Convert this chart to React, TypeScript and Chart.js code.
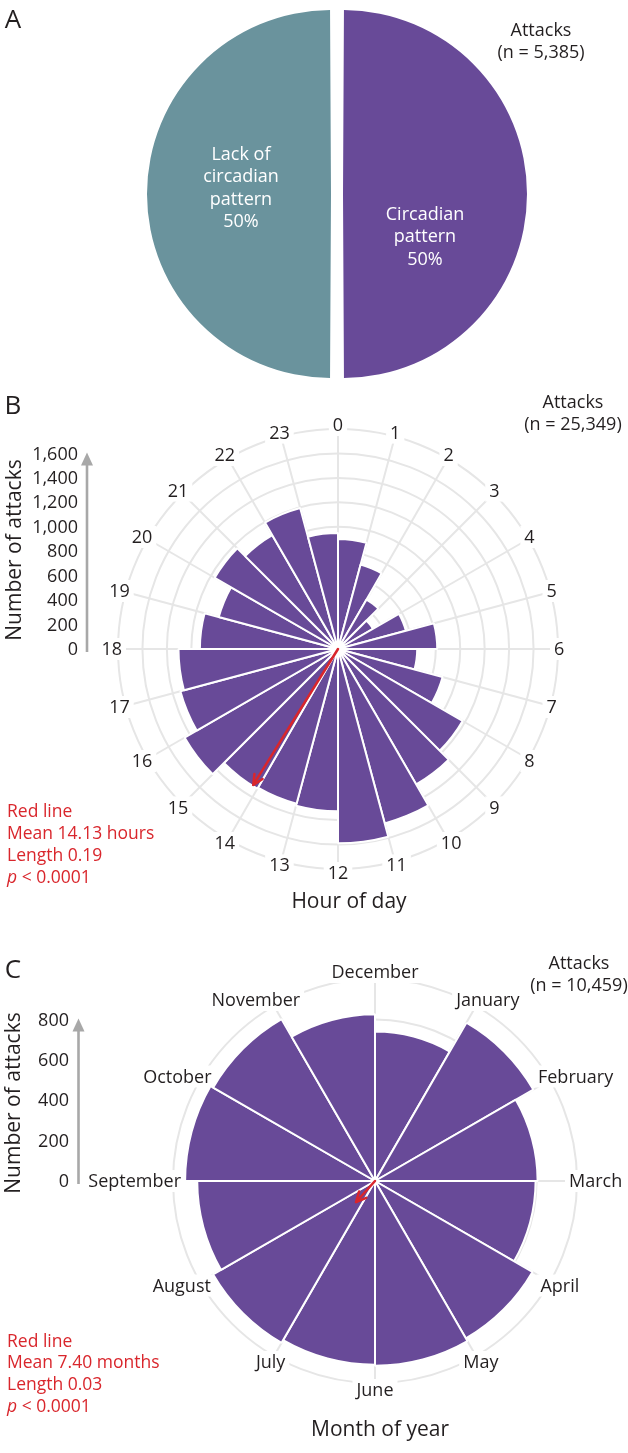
import React, { useEffect, useRef } from 'react';
import { Chart, registerables } from 'chart.js';

Chart.register(...registerables);

const FONT = "'Open Sans', 'DejaVu Sans', sans-serif";
const TEXT = '#231f20';
const PURPLE = '#684a98';
const TEAL = '#6a939d';
const GRID = '#e6e6e6';
const RED = '#d9262c';
const AXIS_GRAY = '#a8a8a8';

// ---------- Panel A data ----------
const pieLabels = ['Circadian pattern', 'Lack of circadian pattern'];
const pieValues = [50, 50];
const pieCount = '5,385';

// ---------- Panel B data ----------
const hourLabels = ['0', '1', '2', '3', '4', '5', '6', '7', '8', '9', '10', '11', '12', '13', '14', '15', '16', '17', '18', '19', '20', '21', '22', '23'];
const hourAttacks = [900, 715, 467, 330, 575, 812, 648, 886, 1177, 1280, 1477, 1590, 1328, 1310, 1320, 1450, 1335, 1305, 1130, 1010, 1165, 1075, 1195, 950];
const hourAxisTicks = [0, 200, 400, 600, 800, 1000, 1200, 1400, 1600];
const hourScaleMax = 1800;
const hourCount = '25,349';
const hourMean = 14.13;
const hourLength = 0.19;
const hourMeanReach = 1310;

// ---------- Panel C data ----------
const monthLabels = ['December', 'January', 'February', 'March', 'April', 'May', 'June', 'July', 'August', 'September', 'October', 'November'];
const monthAttacks = [740, 905, 805, 795, 900, 915, 910, 925, 880, 940, 925, 825];
const monthAxisTicks = [0, 200, 400, 600, 800];
const monthScaleMax = 1000;
const monthCount = '10,459';
const monthMean = 7.4;
const monthLength = 0.03;
const monthMeanReach = 140;

type RoseOpts = {
  axisX: number;
  tickRight: number;
  ticks: number[];
  labelValue: number;
  labelOffset: number;
  labelH: number;
  labelFont: number;
  mean: number;
  meanReach: number;
};

function labelBoxes(chart: any, o: RoseOpts) {
  const s = chart.scales.r;
  const ctx = chart.ctx as CanvasRenderingContext2D;
  ctx.font = `${o.labelFont}px ${FONT}`;
  const labels: string[] = chart.data.labels;
  return labels.map((lab, i) => {
    const pos = s.getPointPosition(i, s.getDistanceFromCenterForValue(o.labelValue) + o.labelOffset);
    const theta = s.getIndexAngle(i);
    const w = ctx.measureText(lab).width;
    return {
      lab,
      w,
      x: pos.x + (Math.sin(theta) * w) / 2,
      y: pos.y - (Math.cos(theta) * o.labelH) / 2,
    };
  });
}

function rosePlugin(o: RoseOpts) {
  return {
    id: 'roseExtras',
    beforeDatasetsDraw(chart: any) {
      const ctx = chart.ctx as CanvasRenderingContext2D;
      ctx.save();
      const boxes = labelBoxes(chart, o);
      ctx.fillStyle = '#ffffff';
      boxes.forEach((b) => ctx.fillRect(b.x - b.w / 2 - 4, b.y - 11, b.w + 8, 22));
      ctx.restore();
    },
    afterDatasetsDraw(chart: any) {
      const s = chart.scales.r;
      const ctx = chart.ctx as CanvasRenderingContext2D;
      const p = s.getPointPosition(o.mean, s.getDistanceFromCenterForValue(o.meanReach));
      ctx.save();
      ctx.strokeStyle = RED;
      ctx.lineWidth = 2.5;
      ctx.lineCap = 'round';
      ctx.lineJoin = 'round';
      ctx.beginPath();
      ctx.moveTo(s.xCenter, s.yCenter);
      ctx.lineTo(p.x, p.y);
      ctx.stroke();
      const back = p.angle + Math.PI;
      const hl = 11;
      const hw = 0.45;
      ctx.beginPath();
      ctx.moveTo(p.x + Math.cos(back - hw) * hl, p.y + Math.sin(back - hw) * hl);
      ctx.lineTo(p.x, p.y);
      ctx.lineTo(p.x + Math.cos(back + hw) * hl, p.y + Math.sin(back + hw) * hl);
      ctx.stroke();
      ctx.restore();
    },
    afterDraw(chart: any) {
      const s = chart.scales.r;
      const ctx = chart.ctx as CanvasRenderingContext2D;
      ctx.save();
      const boxes = labelBoxes(chart, o);
      ctx.textAlign = 'center';
      ctx.textBaseline = 'middle';
      ctx.fillStyle = TEXT;
      boxes.forEach((b) => ctx.fillText(b.lab, b.x, b.y + 1));
      // y axis arrow
      const topVal = o.ticks[o.ticks.length - 1];
      const tipY = s.yCenter - s.getDistanceFromCenterForValue(topVal) - 1;
      ctx.strokeStyle = AXIS_GRAY;
      ctx.fillStyle = AXIS_GRAY;
      ctx.lineWidth = 2.6;
      ctx.beginPath();
      ctx.moveTo(o.axisX, s.yCenter + 3);
      ctx.lineTo(o.axisX, tipY + 10);
      ctx.stroke();
      ctx.beginPath();
      ctx.moveTo(o.axisX, tipY);
      ctx.lineTo(o.axisX - 6, tipY + 13);
      ctx.lineTo(o.axisX + 6, tipY + 13);
      ctx.closePath();
      ctx.fill();
      ctx.fillStyle = TEXT;
      ctx.textAlign = 'right';
      ctx.font = `18px ${FONT}`;
      o.ticks.forEach((v) => {
        const y = s.yCenter - s.getDistanceFromCenterForValue(v);
        ctx.fillText(v.toLocaleString('en-US'), o.tickRight, y + 1);
      });
      ctx.restore();
    },
  };
}

function polarConfig(labels: string[], values: number[], max: number, padding: any, extras: RoseOpts) {
  return {
    type: 'polarArea' as const,
    data: {
      labels,
      datasets: [{ data: values, backgroundColor: PURPLE, borderColor: '#ffffff', borderWidth: 2 }],
    },
    options: {
      responsive: false,
      animation: false as const,
      events: [],
      layout: { padding },
      plugins: { legend: { display: false }, tooltip: { enabled: false } },
      scales: {
        r: {
          min: 0,
          max,
          ticks: { display: false, stepSize: 200 },
          grid: { circular: true, color: GRID, lineWidth: 2 },
          angleLines: { display: true, color: GRID, lineWidth: 2 },
          pointLabels: { display: false },
        },
      },
    },
    plugins: [rosePlugin(extras)],
  };
}

function ChartCanvas({ make, top, height }: { make: () => any; top: number; height: number }) {
  const ref = useRef<HTMLCanvasElement>(null);
  useEffect(() => {
    const c = new Chart(ref.current as HTMLCanvasElement, make());
    return () => c.destroy();
  }, []);
  return (
    <canvas
      ref={ref}
      width={628}
      height={height}
      style={{ position: 'absolute', left: 0, top, width: 628, height, display: 'block' }}
    />
  );
}

function Txt({ x, y, children, size = 18, color = TEXT, align = 'center', lh = 22, rotate = false }: any) {
  const tr = align === 'center' ? 'translate(-50%,-50%)' : 'translate(0,-50%)';
  return (
    <div
      style={{
        position: 'absolute',
        left: x,
        top: y,
        transform: tr + (rotate ? ' rotate(-90deg)' : ''),
        fontFamily: FONT,
        fontSize: size,
        color,
        whiteSpace: 'nowrap',
        textAlign: align,
        lineHeight: `${lh}px`,
      }}
    >
      {children}
    </div>
  );
}

export default function App() {
  const pieConfig = () => ({
    type: 'pie' as const,
    data: {
      labels: pieLabels,
      datasets: [{ data: pieValues, backgroundColor: [PURPLE, TEAL], borderWidth: 0, offset: 24, hoverOffset: 0 }],
    },
    options: {
      responsive: false,
      animation: false as const,
      events: [],
      layout: { padding: { left: 147, right: 101, top: 4, bottom: 6 } },
      plugins: { legend: { display: false }, tooltip: { enabled: false } },
    },
  });

  const hourConfig = () =>
    polarConfig(hourLabels, hourAttacks, hourScaleMax, { left: 118, right: 70, top: 39, bottom: 61 }, {
      axisX: 87,
      tickRight: 78,
      ticks: hourAxisTicks,
      labelValue: hourScaleMax,
      labelOffset: -4,
      labelH: 16,
      labelFont: 18,
      mean: hourMean,
      meanReach: hourMeanReach,
    });

  const monthConfig = () =>
    polarConfig(monthLabels, monthAttacks, monthScaleMax, { left: 173, right: 51, top: 49, bottom: 70 }, {
      axisX: 78.5,
      tickRight: 69,
      ticks: monthAxisTicks,
      labelValue: monthScaleMax,
      labelOffset: -8,
      labelH: 30,
      labelFont: 18,
      mean: monthMean,
      meanReach: monthMeanReach,
    });

  return (
    <div style={{ position: 'absolute', left: 0, top: 0, width: 628, height: 1453, background: '#fff', overflow: 'hidden' }}>
      <ChartCanvas make={pieConfig} top={0} height={390} />
      <ChartCanvas make={hourConfig} top={390} height={540} />
      <ChartCanvas make={monthConfig} top={930} height={523} />

      {/* Panel A texts */}
      <Txt x={13} y={18} size={26}>A</Txt>
      <Txt x={541} y={39.5}>Attacks<br />(n = {pieCount})</Txt>
      <Txt x={241} y={187} color="#ffffff" lh={22.3}>
        Lack of<br />circadian<br />pattern<br />{pieValues[1]}%
      </Txt>
      <Txt x={425} y={235} color="#ffffff" lh={22.3}>
        Circadian<br />pattern<br />{pieValues[0]}%
      </Txt>

      {/* Panel B texts */}
      <Txt x={13} y={404} size={26}>B</Txt>
      <Txt x={573} y={411.5}>Attacks<br />(n = {hourCount})</Txt>
      <Txt x={13} y={550} size={21} rotate>Number of attacks</Txt>
      <Txt x={349} y={900} size={21}>Hour of day</Txt>
      <Txt x={7} y={843.5} align="left" color={RED} size={17.5} lh={22.3}>
        Red line<br />Mean {hourMean.toFixed(2)} hours<br />Length {hourLength.toFixed(2)}<br /><i>p</i> &lt; 0.0001
      </Txt>

      {/* Panel C texts */}
      <Txt x={13} y={968} size={26}>C</Txt>
      <Txt x={579} y={972.5}>Attacks<br />(n = {monthCount})</Txt>
      <Txt x={12} y={1103} size={21} rotate>Number of attacks</Txt>
      <Txt x={380} y={1428} size={21}>Month of year</Txt>
      <Txt x={7} y={1372.5} align="left" color={RED} size={17.5} lh={21.7}>
        Red line<br />Mean {monthMean.toFixed(2)} months<br />Length {monthLength.toFixed(2)}<br /><i>p</i> &lt; 0.0001
      </Txt>
    </div>
  );
}
